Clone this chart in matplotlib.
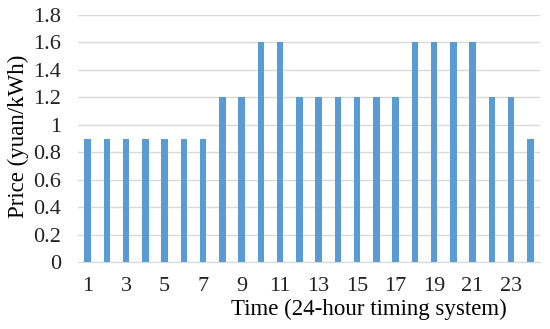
import matplotlib

matplotlib.use("Agg")
import matplotlib.pyplot as plt
from matplotlib.ticker import FuncFormatter, MultipleLocator

hours = list(range(1, 25))
price = [0.9, 0.9, 0.9, 0.9, 0.9, 0.9, 0.9,
         1.2, 1.2, 1.6, 1.6,
         1.2, 1.2, 1.2, 1.2, 1.2, 1.2,
         1.6, 1.6, 1.6, 1.6,
         1.2, 1.2, 0.9]
tick_hours = [1, 3, 5, 7, 9, 11, 13, 15, 17, 19, 21, 23]

plt.rcParams["font.family"] = ["Liberation Serif", "DejaVu Serif"]

fig = plt.figure(figsize=(5.5, 3.29), dpi=100)
ax = fig.add_axes([78 / 550, 1 - 262 / 329, (540 - 78) / 550, (262 - 15) / 329])

ax.bar(hours, price, width=0.33, color="#5B9BD5", zorder=3)
ax.set_xlim(0.5, 24.5)
ax.set_ylim(0, 1.8)
ax.yaxis.set_major_locator(MultipleLocator(0.2))
ax.yaxis.set_major_formatter(FuncFormatter(lambda v, _: f"{v:g}"))
ax.set_xticks(tick_hours)
ax.grid(True, axis="y", color="#D9D9D9", linewidth=1, zorder=0)
for side in ("top", "right", "left"):
    ax.spines[side].set_visible(False)
ax.spines["bottom"].set_color("#D9D9D9")
ax.tick_params(axis="both", length=0, labelsize=16, colors="#222222")
ax.tick_params(axis="x", pad=10.5)
ax.tick_params(axis="y", pad=12)

fig.text(18 / 550, 1 - 136 / 329, "Price (yuan/kWh)", fontsize=16.5,
         rotation=90, ha="center", va="center")
fig.text(369 / 550, 1 - 309 / 329, "Time (24-hour timing system)",
         fontsize=16.5, ha="center", va="center")

fig.savefig("out.png", dpi=100)
plt.close(fig)
